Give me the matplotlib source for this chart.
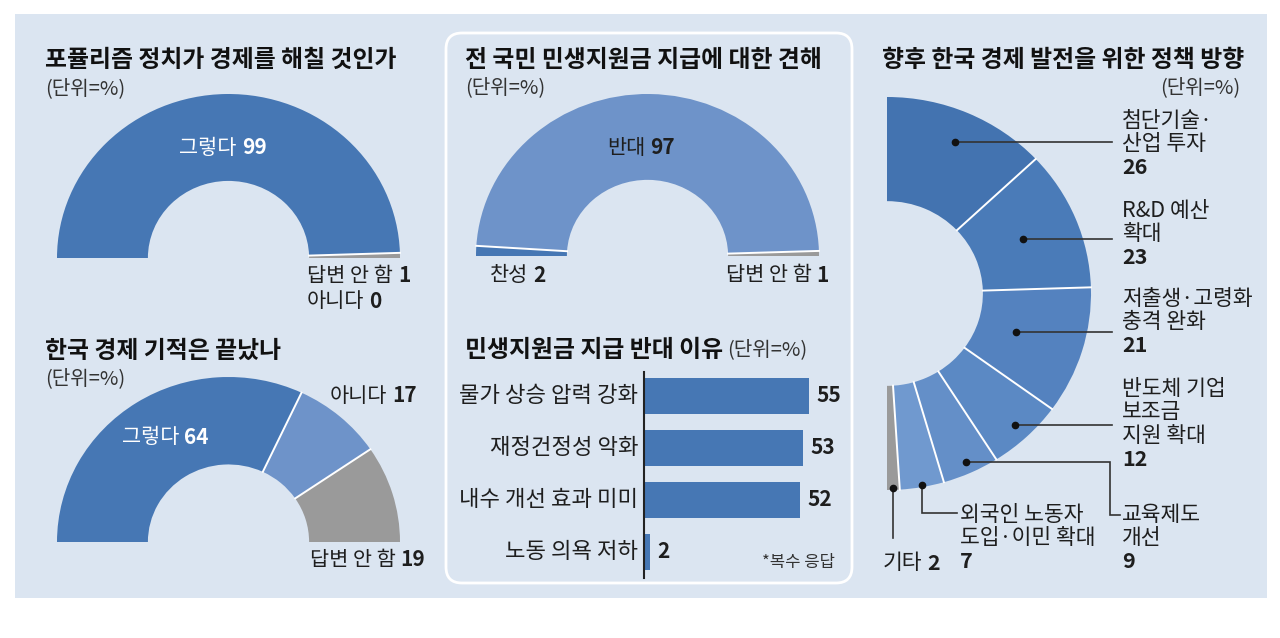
import matplotlib
matplotlib.use("Agg")
import matplotlib.pyplot as plt
import numpy as np
from matplotlib.patches import Wedge, Rectangle, FancyBboxPatch

plt.rcParams['font.family'] = ['Noto Sans CJK KR', 'DejaVu Sans']

W, H = 1280, 638

# ---- data ----
populism_labels = ['그렇다', '아니다', '답변 안 함']
populism_values = [99, 0, 1]

miracle_labels = ['그렇다', '아니다', '답변 안 함']
miracle_values = [64, 17, 19]

support_labels = ['찬성', '반대', '답변 안 함']
support_values = [2, 97, 1]

reason_labels = ['물가 상승 압력 강화', '재정건정성 악화', '내수 개선 효과 미미', '노동 의욕 저하']
reason_values = [55, 53, 52, 2]

policy_labels = ['첨단기술·\n산업 투자', 'R&D 예산\n확대', '저출생·고령화\n충격 완화',
                 '반도체 기업\n보조금\n지원 확대', '교육제도\n개선', '외국인 노동자\n도입·이민 확대', '기타']
policy_values = [26, 23, 21, 12, 9, 7, 2]

# ---- style ----
BG = '#dbe5f1'
DARK = '#4677b4'
MID = '#6e93c9'
GRAY = '#9a9a9a'
INK = '#1e1e1e'
POLICY_COLORS = ['#4373b0', '#4a7bb8', '#5482bf', '#5b89c4', '#648fc8', '#7099cf', GRAY]
TITLE_PT = 17.2
LABEL_PT = 15
BAR_PT = 16
SIDE_PT = 15.5
UNIT_PT = 14.5

fig = plt.figure(figsize=(W / 100, H / 100), dpi=100)
fig.patch.set_facecolor('white')
renderer = fig.canvas.get_renderer()


def px_rect(x0, y0, x1, y1):
    return [x0 / W, 1 - y1 / H, (x1 - x0) / W, (y1 - y0) / H]


def pixel_axes(zorder):
    ax = fig.add_axes([0, 0, 1, 1], zorder=zorder)
    ax.set_xlim(0, W)
    ax.set_ylim(H, 0)
    ax.axis('off')
    ax.patch.set_visible(False)
    return ax


bg = pixel_axes(-5)
top = pixel_axes(10)

# background panels
bg.add_patch(Rectangle((15, 14), 1252, 584, facecolor=BG, edgecolor='none'))
bg.add_patch(FancyBboxPatch((446, 33), 406, 550, boxstyle='round,pad=0,rounding_size=16',
                            facecolor=BG, edgecolor='white', linewidth=2))


def word_num(x, y, word, num, ha='left', color=INK, size=LABEL_PT, gap=5):
    t1 = top.text(x, y, word, fontsize=size, color=color, va='center', ha='left')
    t2 = top.text(x, y, num, fontsize=size, color=color, va='center', ha='left',
                  fontweight='bold')
    w1 = t1.get_window_extent(renderer).width
    w2 = t2.get_window_extent(renderer).width
    total = w1 + gap + w2
    if ha == 'center':
        start = x - total / 2
    elif ha == 'right':
        start = x - total
    else:
        start = x
    t1.set_x(start)
    t2.set_x(start + w1 + gap)


def title(x, y, text):
    return top.text(x, y, text, fontsize=TITLE_PT, fontweight='bold', color='#111111',
                    va='center', ha='left')


def unit(x, y, ha='left'):
    top.text(x, y, '(단위=%)', fontsize=UNIT_PT, color='#333333', va='center', ha=ha)


def donut(rect, values, colors, start, span, xlim, ylim, inner=0.47):
    ax = fig.add_axes(rect, zorder=1)
    ax.set_xlim(*xlim)
    ax.set_ylim(*ylim)
    ax.axis('off')
    ax.patch.set_visible(False)
    total = sum(values)
    angle = start
    edges = []
    for v, c in zip(values, colors):
        sweep = span * v / total
        if v > 0:
            ax.add_patch(Wedge((0, 0), 1, angle - sweep, angle, width=1 - inner,
                               facecolor=c, edgecolor='none', clip_on=False))
            if angle != start:
                edges.append(angle)
        angle -= sweep
    for a in edges:
        t = np.radians(a)
        ax.plot([inner * np.cos(t), np.cos(t)], [inner * np.sin(t), np.sin(t)],
                color='white', lw=1.4, clip_on=False)
    return ax


# ---- top-left: populism ----
title(45, 60, '포퓰리즘 정치가 경제를 해칠 것인가')
unit(45, 89)
donut(px_rect(57, 94, 400, 258), populism_values, [DARK, MID, GRAY], 180, 180, (-1, 1), (0, 1))
word_num(223, 148, populism_labels[0], str(populism_values[0]), ha='center', color='white')
word_num(307, 276, populism_labels[2], str(populism_values[2]))
word_num(307, 301, populism_labels[1], str(populism_values[1]))

# ---- bottom-left: miracle ----
title(45, 351, '한국 경제 기적은 끝났나')
unit(45, 379)
donut(px_rect(57, 377, 400, 542), miracle_values, [DARK, MID, GRAY], 180, 180, (-1, 1), (0, 1))
word_num(165, 437, miracle_labels[0], str(miracle_values[0]), ha='center', color='white')
word_num(330, 396, miracle_labels[1], str(miracle_values[1]))
word_num(310, 560, miracle_labels[2], str(miracle_values[2]))

# ---- middle-top: support payment ----
title(465, 60, '전 국민 민생지원금 지급에 대한 견해')
unit(465, 88)
donut(px_rect(476, 94, 819, 256), support_values, [DARK, MID, GRAY], 180, 180, (-1, 1), (0, 1))
word_num(641, 148, support_labels[1], str(support_values[1]), ha='center')
word_num(490, 275, support_labels[0], str(support_values[0]))
word_num(829, 275, support_labels[2], str(support_values[2]), ha='right')

# ---- middle-bottom: reasons bar chart ----
t = title(465, 350, '민생지원금 지급 반대 이유')
tw = t.get_window_extent(renderer).width
unit(465 + tw + 4, 350)

axb = fig.add_axes(px_rect(644, 372, 824, 578), zorder=1)
ypos = np.arange(len(reason_values))
axb.barh(ypos, reason_values, height=0.69, color=DARK)
axb.set_xlim(0, 60)
axb.set_ylim(3.5, -0.46)
axb.patch.set_visible(False)
for s in ['top', 'right', 'bottom']:
    axb.spines[s].set_visible(False)
axb.spines['left'].set_color('#222222')
axb.spines['left'].set_linewidth(1.5)
axb.set_xticks([])
axb.set_yticks([])
for i, (lab, v) in enumerate(zip(reason_labels, reason_values)):
    axb.text(v + 2.4, i, str(v), fontsize=LABEL_PT, fontweight='bold', color=INK,
             va='center', ha='left')
    axb.text(-2, i, lab, fontsize=BAR_PT, color=INK, va='center', ha='right')
top.text(835, 562, '*복수 응답', fontsize=12, color='#333333', va='center', ha='right')

# ---- right: policy direction ----
title(882, 60, '향후 한국 경제 발전을 위한 정책 방향')
unit(1240, 88, ha='right')
axr = donut(px_rect(887, 97, 1091, 490), policy_values, POLICY_COLORS, 90, 180, (0, 1), (-1, 1))

# label layout (pixel positions of each label block)
block_x = [1122, 1122, 1122, 1122, 1122, 960, 883]
block_y = [121, 211, 299, 389, 515, 515, 563]
dot_r = [0.84, 0.72, 0.66, 0.92, 0.94, 0.99, 0.99]
leader = ['h', 'h', 'h', 'h', 'elbow', 'down_right', 'down']
LINE_GAP = 23.5
LEAD_X = 1112

cum = 0
for i, (lab, v) in enumerate(zip(policy_labels, policy_values)):
    mid = np.radians(90 - 180 * (cum + v / 2) / sum(policy_values))
    cum += v
    d = axr.transData.transform((dot_r[i] * np.cos(mid), dot_r[i] * np.sin(mid)))
    dx, dy = d[0], H - d[1]
    kind = leader[i]
    if kind == 'h':
        xs, ys = [dx, LEAD_X], [dy, dy]
    elif kind == 'elbow':
        xs, ys = [dx, LEAD_X - 2, LEAD_X - 2, block_x[i] - 2], [dy, dy, block_y[i], block_y[i]]
    elif kind == 'down_right':
        xs, ys = [dx, dx, block_x[i] - 3], [dy, block_y[i] - 2, block_y[i] - 2]
    else:
        xs, ys = [dx, dx], [dy, block_y[i] - 25]
    top.plot(xs, ys, color='#333333', lw=1.2, solid_joinstyle='miter')
    top.plot(dx, dy, 'o', color='#111111', markersize=4.5)

    lines = lab.split('\n')
    if len(lines) == 1:
        word_num(block_x[i], block_y[i], lines[0], str(v), size=SIDE_PT)
    else:
        for k, ln in enumerate(lines):
            top.text(block_x[i], block_y[i] + k * LINE_GAP, ln, fontsize=SIDE_PT, color=INK,
                     va='center', ha='left')
        top.text(block_x[i], block_y[i] + len(lines) * LINE_GAP, str(v), fontsize=SIDE_PT,
                 fontweight='bold', color=INK, va='center', ha='left')

fig.savefig('out.png', dpi=100, facecolor='white')
plt.close(fig)
